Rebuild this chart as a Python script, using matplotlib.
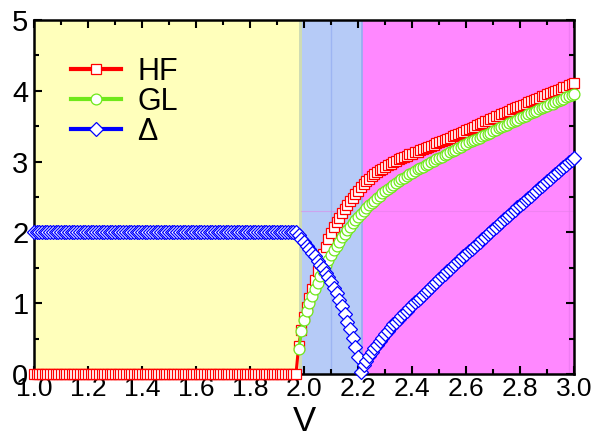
import numpy as np
import matplotlib
matplotlib.use("Agg")
import matplotlib.pyplot as plt
from matplotlib.ticker import MultipleLocator, FormatStrFormatter

plt.rcParams['font.family'] = ['Liberation Sans', 'DejaVu Sans']

# V grid, 0.01 steps from 1.00 to 3.00
V = np.round(np.linspace(1.0, 3.0, 201), 2)

# HF: zero up to V = 1.97, then values for 1.98 ... 3.00
hf_tail = [0.40, 0.62, 0.80, 0.95, 1.08, 1.20, 1.33, 1.45, 1.57, 1.69,
           1.80, 1.90, 1.99, 2.07, 2.14, 2.21, 2.27, 2.33, 2.39, 2.44,
           2.49, 2.54, 2.59, 2.64, 2.69, 2.73, 2.76, 2.79, 2.82, 2.85,
           2.88, 2.90, 2.93, 2.95, 2.97, 2.99, 3.01, 3.03, 3.05, 3.06,
           3.08, 3.10, 3.11, 3.13, 3.14, 3.16, 3.18, 3.19, 3.21, 3.22,
           3.24, 3.26, 3.27, 3.29, 3.31, 3.32, 3.34, 3.36, 3.37, 3.39,
           3.41, 3.42, 3.44, 3.46, 3.48, 3.49, 3.51, 3.53, 3.55, 3.57,
           3.58, 3.60, 3.62, 3.64, 3.65, 3.67, 3.69, 3.70, 3.72, 3.74,
           3.75, 3.77, 3.79, 3.80, 3.82, 3.84, 3.85, 3.87, 3.89, 3.90,
           3.92, 3.93, 3.95, 3.97, 3.98, 4.00, 4.01, 4.03, 4.05, 4.06,
           4.08, 4.09, 4.11]
hf = [0.0] * 98 + hf_tail

# GL: only drawn from V = 1.98
gl = [0.35, 0.60, 0.76, 0.89, 1.00, 1.10, 1.20, 1.29, 1.38, 1.46,
      1.54, 1.61, 1.68, 1.75, 1.81, 1.87, 1.93, 1.98, 2.03, 2.08,
      2.13, 2.17, 2.22, 2.26, 2.30, 2.34, 2.38, 2.42, 2.45, 2.49,
      2.52, 2.55, 2.58, 2.61, 2.64, 2.67, 2.70, 2.72, 2.75, 2.77,
      2.80, 2.82, 2.84, 2.86, 2.89, 2.91, 2.93, 2.95, 2.97, 2.99,
      3.01, 3.03, 3.05, 3.07, 3.09, 3.11, 3.13, 3.15, 3.17, 3.19,
      3.21, 3.23, 3.25, 3.27, 3.29, 3.30, 3.32, 3.34, 3.36, 3.38,
      3.39, 3.41, 3.43, 3.45, 3.47, 3.49, 3.50, 3.52, 3.54, 3.56,
      3.58, 3.59, 3.61, 3.63, 3.65, 3.67, 3.68, 3.70, 3.72, 3.74,
      3.76, 3.77, 3.79, 3.81, 3.82, 3.84, 3.86, 3.87, 3.89, 3.91,
      3.92, 3.94, 3.96]

# Delta: 2 up to V = 1.97, then values for 1.98 ... 3.00
delta_tail = [1.96, 1.90, 1.86, 1.81, 1.76, 1.71, 1.66, 1.60, 1.54, 1.49,
              1.43, 1.37, 1.30, 1.22, 1.14, 1.05, 0.96, 0.85, 0.74, 0.63,
              0.51, 0.38, 0.24, 0.03, 0.12, 0.19, 0.25, 0.31, 0.36, 0.41,
              0.46, 0.51, 0.56, 0.61, 0.66, 0.70, 0.74, 0.78, 0.82, 0.86,
              0.89, 0.93, 0.97, 1.01, 1.04, 1.08, 1.12, 1.16, 1.19, 1.23,
              1.27, 1.30, 1.34, 1.38, 1.41, 1.45, 1.48, 1.52, 1.56, 1.59,
              1.63, 1.66, 1.70, 1.73, 1.77, 1.80, 1.84, 1.87, 1.91, 1.94,
              1.98, 2.01, 2.05, 2.08, 2.12, 2.15, 2.19, 2.22, 2.25, 2.29,
              2.32, 2.36, 2.39, 2.42, 2.46, 2.49, 2.52, 2.56, 2.59, 2.62,
              2.66, 2.69, 2.72, 2.75, 2.79, 2.82, 2.85, 2.89, 2.92, 2.95,
              2.99, 3.02, 3.05]
delta = [2.0] * 98 + delta_tail

# phase regions
region_edges = [1.0, 1.985, 2.214, 3.0]
region_colors = ['#ffffbb', '#b6cbf7', '#ff88ff']

fig = plt.figure(figsize=(5.93, 4.41), dpi=100)
ax = fig.add_axes([0.0573, 0.152, 0.911, 0.8027])

for i in range(3):
    ax.axvspan(region_edges[i], region_edges[i + 1], color=region_colors[i], lw=0, zorder=0)
# thin blended strip and faint grid remnants
ax.axvspan(1.982, 1.992, color='#cfdcb4', lw=0, zorder=0.5)
ax.axvline(2.1, color='#9db5f2', lw=1, zorder=0.6)
ax.axvline(2.214, color='#93aef0', lw=1.2, zorder=0.6)
ax.axvline(2.98, color='#f07cf4', lw=1, zorder=0.6)
ax.plot([1.99, 3.0], [2.3, 2.3], color='#e27ee6', lw=0.8, alpha=0.5, zorder=0.6)

ax.plot(V, hf, '-', color='red', lw=2.2, marker='s', ms=7.3, mfc='white', mec='red',
        mew=0.9, label='HF', clip_on=False, zorder=3)
ax.plot(V[98:], gl, '-', color='#6fe81a', lw=2.2, marker='o', ms=7.8, mfc='white',
        mec='#6fe81a', mew=0.9, label='GL', clip_on=False, zorder=4)
ax.plot(V, delta, '-', color='blue', lw=2.2, marker='D', ms=6.8, mfc='white', mec='blue',
        mew=0.9, label='Δ', clip_on=False, zorder=5)

ax.set_xlim(1.0, 3.0)
ax.set_ylim(0, 5)
ax.xaxis.set_major_locator(MultipleLocator(0.2))
ax.xaxis.set_minor_locator(MultipleLocator(0.1))
ax.xaxis.set_major_formatter(FormatStrFormatter('%.1f'))
ax.yaxis.set_major_locator(MultipleLocator(1))
ax.yaxis.set_minor_locator(MultipleLocator(0.5))
ax.tick_params(which='both', direction='in', top=True, right=True, width=1.5, colors='black')
ax.tick_params(which='major', length=6)
ax.tick_params(which='minor', length=3.5)
ax.tick_params(axis='x', which='major', labelsize=19, pad=2)
ax.tick_params(axis='y', which='major', labelsize=21, pad=4)
for s in ax.spines.values():
    s.set_linewidth(1.8)
    s.set_zorder(2.5)

ax.set_xlabel('V', fontsize=25, labelpad=3)

leg = ax.legend(loc='upper left', bbox_to_anchor=(0.045, 0.93), frameon=False, fontsize=22,
                numpoints=1, handlelength=1.64, handletextpad=0.55, labelspacing=0.0,
                borderaxespad=0.0)
for h in leg.get_lines():
    h.set_linewidth(3)

fig.savefig('out.png', dpi=100)
